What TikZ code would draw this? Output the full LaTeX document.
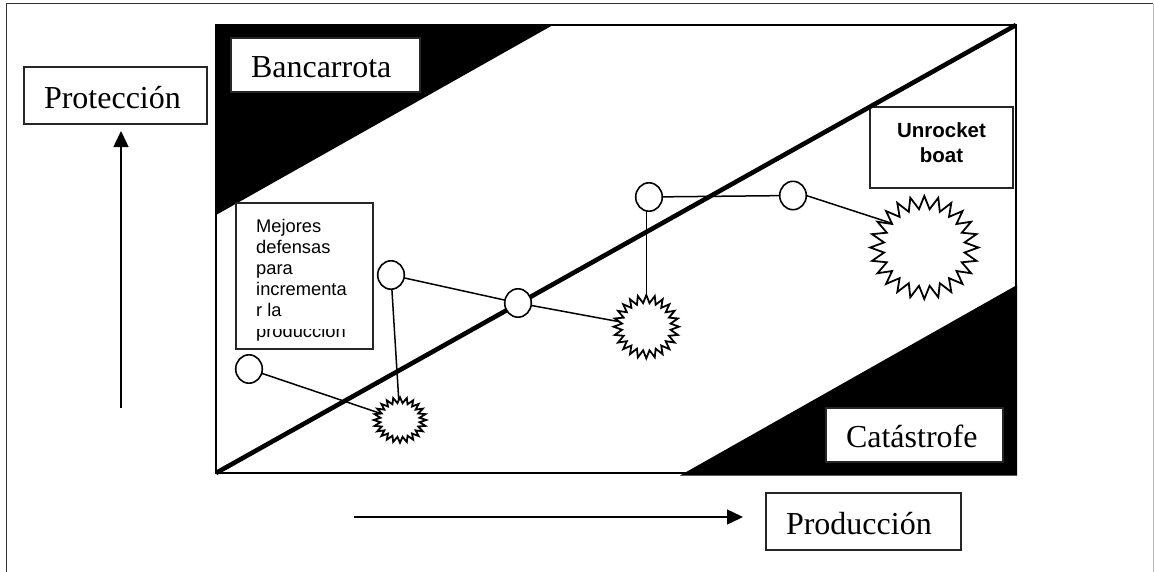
\documentclass[tikz,border=0pt]{standalone}
\usepackage{fontspec}
\setmainfont{Liberation Serif}
\newfontfamily\arialfont{Liberation Sans}
\usetikzlibrary{arrows.meta,shapes.geometric}
\begin{document}
\begin{tikzpicture}[x=1pt,y=-1pt,
  labelbox/.style={draw=black!85, line width=1.2pt, fill=white, rectangle,
    inner xsep=20pt, inner ysep=0pt, align=left,
    font=\fontsize{32}{38}\selectfont, text height=25pt, text depth=0pt},
  plainbox/.style={draw=black!85, line width=1.2pt, fill=white, rectangle, inner sep=0pt},
  ring/.style={ellipse, draw, line width=1.6pt, fill=white,
    minimum width=26.6pt, minimum height=28.4pt, inner sep=0pt, outer sep=0pt},
  burst/.style={star, star points=24, star point ratio=1.333, draw, line width=1.8pt,
    fill=white, inner sep=0pt, outer sep=0pt, transform shape},
  link/.style={line width=1.5pt},
  axis/.style={line width=1.5pt, -{Triangle[length=16pt,width=15pt]}}
]
\useasboundingbox (0,0) rectangle (1154,571);

% outer page frame (open at the bottom)
\draw[line width=1.4pt, black!80] (6.5,575) -- (6.5,3.5) -- (1153,3.5);
\draw[line width=1pt, gray!55] (1153,3.5) -- (1153,575);

% shaded regions of the plot area
\fill (216,25) -- (553,25) -- (216,215) -- cycle;
\fill (680,475.5) -- (1017,475.5) -- (1017,285) -- cycle;

% text boxes
\node[labelbox, text width=149pt, minimum height=54pt] (banca) at (325.5,65) {Bancarrota};
\node[labelbox, text width=143pt, minimum height=57pt] (prot) at (115.5,95.5) {Protección};
\node[labelbox, text width=137pt, minimum height=54pt] (cata) at (914.5,435) {Catástrofe};
\node[labelbox, text width=155pt, minimum height=57pt] (prod) at (863.5,521.5) {Producción};

\node[plainbox, minimum width=143pt, minimum height=81pt] (urbox) at (941.5,147.5) {};
\node[font=\arialfont\bfseries\fontsize{20.5}{25}\selectfont, align=center,
  anchor=north, inner sep=0pt] (urtext) at (941.5,122) {Unrocket\\boat};

\node[plainbox, minimum width=137pt, minimum height=146pt] (mejbox) at (304.5,276) {};
\node[font=\arialfont\fontsize{18.3}{21.1}\selectfont, align=left,
  anchor=north west, inner sep=0pt] (mejtext) at (256,218.6)
  {Mejores\\defensas\\para\\incrementa\\r la};
\begin{scope}
  \clip (237,329) rectangle (372,348);
  \node[font=\arialfont\fontsize{18.3}{21.1}\selectfont, anchor=base west,
    inner sep=0pt] (mejlast) at (256,337.2) {producción};
\end{scope}

% plot area and its diagonal
\coordinate (frameSW) at (216,473);
\coordinate (frameNE) at (1016,25);
\draw[line width=1.6pt] (frameSW) rectangle (frameNE);
\draw[line width=4.6pt] (frameSW) -- (frameNE);

% axis arrows
\coordinate (vbot) at (121,408);
\coordinate (vtop) at (121,131);
\draw[axis] (vbot) -- (vtop);
\coordinate (hleft) at (354,517);
\coordinate (hright) at (743,517);
\draw[axis] (hleft) -- (hright);

% positions
\node[ring] (c1) at (249,369) {};
\node[ring] (c2) at (391,275) {};
\node[ring] (c3) at (518,303) {};
\node[ring] (c4) at (649,197) {};
\node[ring] (c5) at (793,195.5) {};

% crises
\begin{scope}[shift={(400,420)}, xscale=1.16]
  \node[burst, minimum size=45.4pt] (s1) at (0,0) {};
\end{scope}
\begin{scope}[shift={(646.3,326.7)}, xscale=1.03]
  \node[burst, minimum size=63.4pt] (s2) at (0,0) {};
\end{scope}
\begin{scope}[shift={(924.3,247.5)}, xscale=1.05]
  \node[burst, minimum size=103pt] (s3) at (0,0) {};
\end{scope}

% path between positions and crises
\draw[link] (c1) -- (s1);
\draw[link] (c2) -- (s1);
\draw[link] (c2) -- (c3);
\draw[link] (c3) -- (s2);
\draw[link] (c4.south -| s2.north) -- (s2.north);
\draw[link] (c4) -- (c5);
\draw[link] (c5.east) -- (s3.142);
\end{tikzpicture}
\end{document}
